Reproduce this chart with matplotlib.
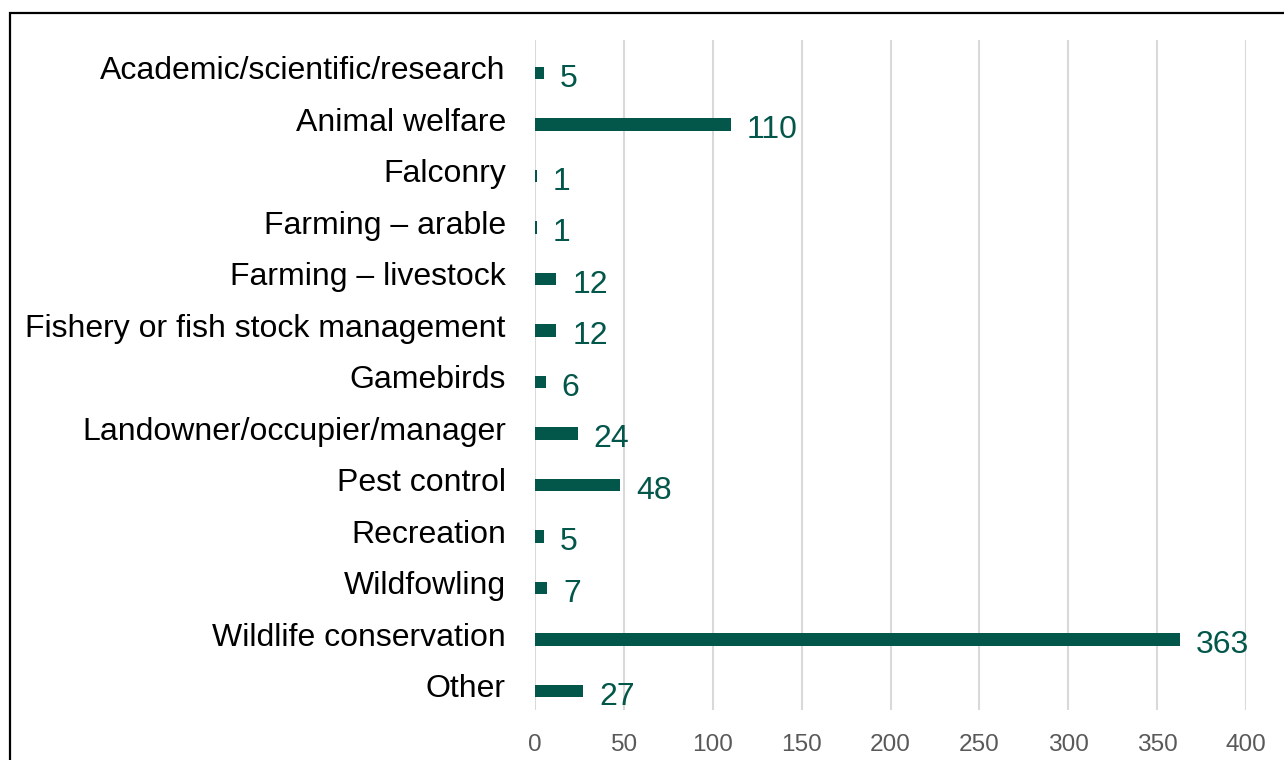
import matplotlib
matplotlib.use("Agg")
import matplotlib.pyplot as plt
from matplotlib.patches import Rectangle
import matplotlib.transforms as mtransforms

categories = [
    "Academic/scientific/research",
    "Animal welfare",
    "Falconry",
    "Farming \u2013 arable",
    "Farming \u2013 livestock",
    "Fishery or fish stock management",
    "Gamebirds",
    "Landowner/occupier/manager",
    "Pest control",
    "Recreation",
    "Wildfowling",
    "Wildlife conservation",
    "Other",
]
values = [5, 110, 1, 1, 12, 12, 6, 24, 48, 5, 7, 363, 27]
xticks = [0, 50, 100, 150, 200, 250, 300, 350, 400]

BAR = "#03574A"
W, H = 1284, 760
plt.rcParams["font.family"] = ["Liberation Sans", "DejaVu Sans"]

fig = plt.figure(figsize=(W / 100, H / 100), dpi=100)
ax = fig.add_axes([535 / W, 1 - 710 / H, (1246 - 535) / W, (710 - 40) / H])

pos = list(range(len(categories)))
ax.barh(pos, values, height=0.25, color=BAR, zorder=3)
ax.set_xlim(0, 400)
ax.set_ylim(12.37, -0.64)
ax.set_xticks(xticks)
ax.set_xticklabels([str(t) for t in xticks], fontsize=17.6, color="#595959")
ax.set_yticks(pos)
ax.set_yticklabels(categories, fontsize=23, color="black")
ax.tick_params(axis="y", length=0, pad=21)
ax.tick_params(axis="x", length=0, pad=17)
off = mtransforms.ScaledTranslation(0, 5 / 100, fig.dpi_scale_trans)
for lab in ax.get_yticklabels():
    lab.set_transform(lab.get_transform() + off)
for s in ax.spines.values():
    s.set_visible(False)
ax.grid(axis="x", color="#D9D9D9", linewidth=1.5, zorder=0)
ax.set_axisbelow(True)

for p, v in zip(pos, values):
    ax.annotate(str(v), xy=(v, p), xytext=(11.5, -4), textcoords="offset points",
                ha="left", va="center", fontsize=23, color=BAR)

fig.patches.append(Rectangle((9.5 / W, -0.1), 1.2, 1.1 - 12.5 / H, transform=fig.transFigure,
                             fill=False, edgecolor="black", linewidth=1.6, clip_on=False))

fig.savefig("out.png", dpi=100, facecolor="white")
